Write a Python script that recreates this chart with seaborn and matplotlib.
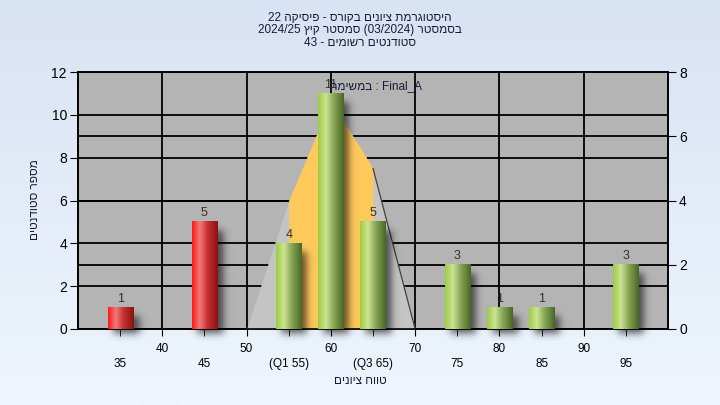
import re
import numpy as np
import pandas as pd
import matplotlib
matplotlib.use("Agg")
import matplotlib.pyplot as plt
import seaborn as sns
from matplotlib.colors import LinearSegmentedColormap

# ---------------- data ----------------
scores = [35, 45, 55, 60, 65, 75, 80, 85, 95]
counts = [1, 5, 4, 11, 5, 3, 1, 1, 3]
status = ["fail", "fail", "pass", "pass", "pass", "pass", "pass", "pass", "pass"]
curve_x = [50, 55, 60, 65, 70]
curve_y = [0, 4, 7.1, 5, 0]          # right-axis units
q1, q3 = 55, 65
major_ticks = [40, 50, 60, 70, 80, 90]
minor_ticks = [35, 45, 55, 65, 75, 85, 95]
minor_labels = ["35", "45", "(Q1 55)", "(Q3 65)", "75", "85", "95"]
title_lines = ["היסטוגרמת ציונים בקורס - פיסיקה 22",
               "בסמסטר (03/2024) סמסטר קיץ 2024/25",
               "סטודנטים רשומים - 43"]
task_label = "Final_A : במשימה"
ylabel = "מספר סטודנטים"
xlabel = "טווח ציונים"

HEB = r"[\u0590-\u05FF]"
MIRROR = {"(": ")", ")": "("}


def rtl(s):
    """Logical right-to-left text -> visual order for matplotlib."""
    toks = re.findall(HEB + r"+|[0-9A-Za-z_/.]+|[^\u0590-\u05FF0-9A-Za-z_/.]", s)
    out = []
    for t in reversed(toks):
        if re.match(HEB, t):
            out.append(t[::-1])
        elif t in MIRROR:
            out.append(MIRROR[t])
        else:
            out.append(t)
    return "".join(out)


FONT = ["Liberation Sans", "DejaVu Sans"]
plt.rcParams["font.family"] = FONT

df = pd.DataFrame({"score": scores, "count": counts, "status": status})

fig = plt.figure(figsize=(7.2, 4.05), dpi=100)

# background gradient
bg = fig.add_axes([0, 0, 1, 1], zorder=-10)
bg.axis("off")
grad = np.linspace(0, 1, 256).reshape(-1, 1)
bg_cmap = LinearSegmentedColormap.from_list("bg", ["#d8e3f3", "#eef5fd"])
bg.imshow(grad, aspect="auto", cmap=bg_cmap, extent=[0, 1, 0, 1])

L, R, T, B = 78 / 720, 668 / 720, 1 - 72 / 405, 1 - 329 / 405
ax = fig.add_axes([L, B, R - L, T - B])
ax2 = ax.twinx()
ax2.set_zorder(1)
ax.set_zorder(2)
ax.patch.set_visible(False)
ax2.patch.set_visible(True)
ax2.patch.set_facecolor("#b4b4b4")

ax.set_xlim(30, 100)
ax.set_ylim(0, 12)
ax2.set_ylim(0, 8)
ax.set_yticks(range(0, 13, 2))
ax2.set_yticks(range(0, 9, 2))

# grids
ax.set_axisbelow(True)
ax.grid(True, axis="y", color="black", lw=1.3)
ax.grid(True, axis="x", which="major", color="black", lw=1.3)
ax2.grid(True, axis="y", color="black", lw=1.3)

# distribution polygon (right-axis units)
cx = np.array(curve_x, dtype=float)
cy = np.array(curve_y, dtype=float)
ax.fill_between(cx, 0, cy, color="#c4c4c4", lw=0, zorder=1, transform=ax2.transData)
ax.fill_between(cx, 0, cy, where=(cx >= q1) & (cx <= q3), color="#ffc95c", lw=0,
                zorder=1.1, transform=ax2.transData)
ax.plot(cx[3:], cy[3:], color="#404040", lw=0.9, zorder=1.2, transform=ax2.transData)

# bars
sns.barplot(data=df, x="score", y="count", hue="status", native_scale=True,
            dodge=False, width=0.6, palette={"fail": "#e83030", "pass": "#98c848"},
            legend=False, ax=ax, zorder=3, linewidth=0)

red_cmap = LinearSegmentedColormap.from_list(
    "r", [(0, "#ff1818"), (0.3, "#f07a7a"), (0.6, "#c83030"), (1, "#861212")])
grn_cmap = LinearSegmentedColormap.from_list(
    "g", [(0, "#9ccc40"), (0.3, "#cce492"), (0.6, "#8aa858"), (1, "#4a6624")])
hgrad = np.linspace(0, 1, 128).reshape(1, -1)

pxx = (R - L) * 720 / 70.0   # px per x unit
pxy = (T - B) * 405 / 12.0   # px per y unit


def sig(v):
    return 1 / (1 + np.exp(-v))


for c in ax.containers:
    labels = []
    for p in c:
        h = p.get_height()
        if not np.isfinite(h) or h <= 0:
            labels.append("")
            continue
        labels.append(f"{int(round(h))}")
        x0, w = p.get_x(), p.get_width()
        fc = p.get_facecolor()
        cmap = red_cmap if fc[0] > 0.8 and fc[1] < 0.4 else grn_cmap
        ax.imshow(hgrad, cmap=cmap, aspect="auto", extent=[x0, x0 + w, 0, h],
                  zorder=3.2, interpolation="bilinear")
        # soft shadow
        pad = 10
        Wp, Hp = w * pxx, h * pxy
        xs = np.arange(-pad, Wp + 2 * pad)
        ys = np.arange(-pad - 2, Hp + pad)
        ox, oy, s = 5, -5, 2.2
        ax_ = sig((xs - ox) / s) * sig((Wp + ox - xs) / s)
        ay_ = sig((ys - oy) / s) * sig((Hp + oy - 4 - ys) / s)
        alpha = np.outer(ay_[::-1], ax_) * 0.6
        alpha[:, xs < Wp - 1] *= np.where((ys[::-1] > 0)[:, None], 0, 1)
        img = np.zeros(alpha.shape + (4,))
        img[..., 3] = alpha
        ax.imshow(img, aspect="auto", zorder=2.9,
                  extent=[x0 + xs[0] / pxx, x0 + (xs[-1] + 1) / pxx,
                          ys[0] / pxy, (ys[-1] + 1) / pxy],
                  clip_on=False, interpolation="bilinear")
    ax.bar_label(c, labels=labels, padding=2, fontsize=9, color="#3a3020", zorder=5)

ax.set_xlim(30, 100)
ax.set_ylim(0, 12)

# ticks
ax.set_xticks(major_ticks)
ax.set_xticklabels([str(t) for t in major_ticks])
ax.set_xticks(minor_ticks, minor=True)
ax.set_xticklabels(minor_labels, minor=True)
ax.tick_params(axis="x", which="major", length=5, pad=5, labelsize=8.5, colors="black")
ax.tick_params(axis="x", which="minor", length=5, pad=16, labelsize=8.5, colors="black")
ax.tick_params(axis="y", length=6, pad=2, labelsize=10, colors="black")
ax2.tick_params(axis="y", length=6, pad=2, labelsize=10, colors="black")
ax.set_xlabel("")
ax.set_ylabel("")
for a in (ax, ax2):
    for sp in a.spines.values():
        sp.set_color("black")
        sp.set_linewidth(1.2)

# texts
tc = "#1a1a3a"
for i, line in enumerate(title_lines):
    fig.text(0.5, 1 - (18 + 12.5 * i) / 405, rtl(line), ha="center", va="center",
             fontsize=8.5, color=tc)
ax.text((376 - 78) / 590, 0.945, rtl(task_label), transform=ax.transAxes, ha="center",
        va="center", fontsize=8.5, color=tc, zorder=6)
fig.text(35 / 720, 1 - 200 / 405, rtl(ylabel), rotation=90, ha="center", va="center",
         fontsize=8.5, color=tc)
fig.text(0.5, 1 - 381 / 405, rtl(xlabel), ha="center", va="center", fontsize=8.5, color=tc)

fig.savefig("out.png", dpi=100)
